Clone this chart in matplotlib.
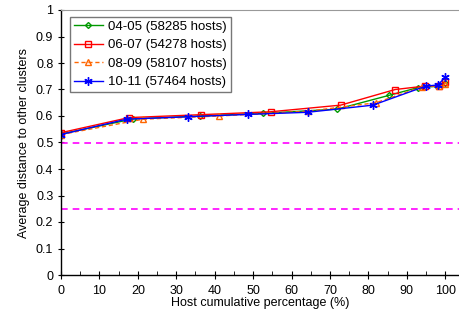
import matplotlib
matplotlib.use("Agg")
import matplotlib.pyplot as plt
from matplotlib.ticker import MultipleLocator

plt.rcParams['font.family'] = ['Liberation Sans', 'DejaVu Sans']

labels = ["04-05 (58285 hosts)", "06-07 (54278 hosts)", "08-09 (58107 hosts)", "10-11 (57464 hosts)"]

x_0405 = [0, 18.8, 36.2, 52.6, 71.9, 85.4, 92.9, 98.0, 100]
y_0405 = [0.532, 0.589, 0.600, 0.610, 0.626, 0.678, 0.707, 0.712, 0.725]

x_0607 = [0, 17.7, 36.4, 54.6, 72.8, 87.0, 94.8, 98.5, 100]
y_0607 = [0.537, 0.594, 0.605, 0.616, 0.641, 0.700, 0.713, 0.715, 0.730]

x_0809 = [0, 21.4, 41.0, 64.3, 82.0, 94.0, 98.5, 100]
y_0809 = [0.530, 0.588, 0.600, 0.618, 0.650, 0.710, 0.714, 0.720]

x_1011 = [0, 17.1, 33.0, 48.6, 64.2, 81.2, 95.0, 98.1, 100]
y_1011 = [0.530, 0.588, 0.597, 0.606, 0.614, 0.641, 0.713, 0.717, 0.746]

ref_lines = [0.5, 0.25]

fig = plt.figure(figsize=(4.59, 3.24), dpi=100)
ax = fig.add_axes([61/459, 49/324, 1 - 61/459, 265/324])

ax.plot(x_0405, y_0405, color='#009900', lw=1, marker='D', ms=3, mfc='none', mec='#009900', label=labels[0])
ax.plot(x_0607, y_0607, color='#ff0000', lw=1, marker='s', ms=5, mfc='none', mec='#ff0000', label=labels[1])
ax.plot(x_0809, y_0809, color='#ff6600', lw=1, ls=(0, (3, 2)), marker='^', ms=5, mfc='none', mec='#ff6600', label=labels[2])
ax.plot(x_1011, y_1011, color='#0000ff', lw=1, marker=(6, 2, 0), ms=6, mec='#0000ff', mew=1, label=labels[3])

for v in ref_lines:
    ax.axhline(v, color='#ff00ff', lw=1.2, ls=(0, (4, 3)))

ax.set_xlim(0, 103.6)
ax.set_ylim(0, 1)
ax.xaxis.set_major_locator(MultipleLocator(10))
ax.xaxis.set_minor_locator(MultipleLocator(5))
ax.yaxis.set_major_locator(MultipleLocator(0.1))
ax.set_yticklabels([f"{v:g}" for v in ax.get_yticks()])

ax.spines['right'].set_visible(False)
ax.spines['top'].set_color('#999999')
ax.spines['left'].set_linewidth(1)
ax.spines['bottom'].set_linewidth(1)

ax.tick_params(axis='x', which='major', direction='inout', length=6, labelsize=9, pad=4)
ax.tick_params(axis='x', which='minor', direction='in', length=3)
ax.tick_params(axis='y', which='major', direction='inout', length=5, labelsize=9, pad=3)

ax.set_xlabel("Host cumulative percentage (%)", fontsize=9, labelpad=0)
ax.set_ylabel("Average distance to other clusters", fontsize=9, labelpad=4)

leg = ax.legend(loc='upper left', bbox_to_anchor=(0.022, 0.975), borderaxespad=0, fontsize=9.5, frameon=True,
                fancybox=False, edgecolor='#555555', handlelength=2.2, borderpad=0.3,
                labelspacing=0.47, handletextpad=0.4)
leg.get_frame().set_linewidth(1)

fig.savefig("out.png", dpi=100)
